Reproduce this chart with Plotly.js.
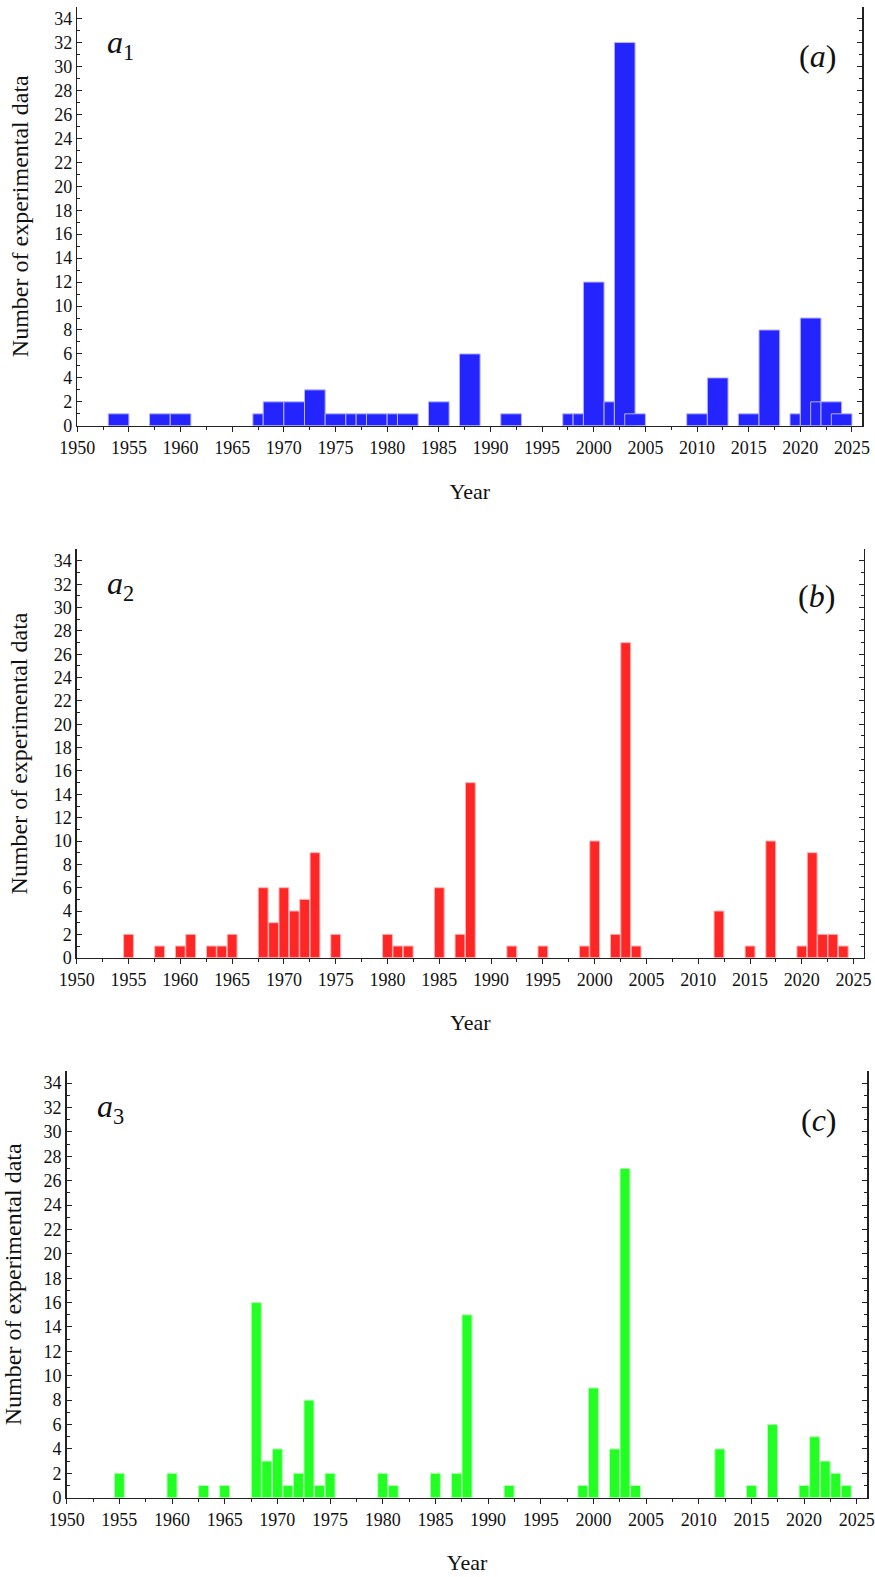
<!DOCTYPE html>
<html>
<head>
<meta charset="utf-8">
<script src="https://cdn.plot.ly/plotly-3.0.1.min.js"></script>
<style>
html,body{margin:0;padding:0;background:#fff;}
#chart{width:875px;height:1577px;}
</style>
</head>
<body>
<div id="chart"></div>
<script>
// ---- Panel (a): bins (start year, end year) and counts ----
const aStart = [1953, 1957, 1959, 1967, 1968, 1970, 1972, 1974, 1976, 1977, 1978, 1980, 1981, 1984, 1987, 1991, 1997, 1998, 1999, 2001, 2002, 2003, 2009, 2011, 2014, 2016, 2019, 2020, 2021, 2022, 2023];
const aEnd   = [1955, 1959, 1961, 1968, 1970, 1972, 1974, 1976, 1977, 1978, 1980, 1981, 1983, 1986, 1989, 1993, 1998, 1999, 2001, 2002, 2004, 2005, 2011, 2013, 2016, 2018, 2020, 2022, 2022, 2024, 2025];
const aCount = [1, 1, 1, 1, 2, 2, 3, 1, 1, 1, 1, 1, 1, 2, 6, 1, 1, 1, 12, 2, 32, 1, 1, 4, 1, 8, 1, 9, 2, 2, 1];

// ---- Panel (b) ----
const bYears = [1955, 1958, 1960, 1961, 1963, 1964, 1965, 1968, 1969, 1970, 1971, 1972, 1973, 1975, 1980, 1981, 1982, 1985, 1987, 1988, 1992, 1995, 1999, 2000, 2002, 2003, 2004, 2012, 2015, 2017, 2020, 2021, 2022, 2023, 2024];
const bCount = [2, 1, 1, 2, 1, 1, 2, 6, 3, 6, 4, 5, 9, 2, 2, 1, 1, 6, 2, 15, 1, 1, 1, 10, 2, 27, 1, 4, 1, 10, 1, 9, 2, 2, 1];

// ---- Panel (c) ----
const cYears = [1955, 1960, 1963, 1965, 1968, 1969, 1970, 1971, 1972, 1973, 1974, 1975, 1980, 1981, 1985, 1987, 1988, 1992, 1999, 2000, 2002, 2003, 2004, 2012, 2015, 2017, 2020, 2021, 2022, 2023, 2024];
const cCount = [2, 2, 1, 1, 16, 3, 4, 1, 2, 8, 1, 2, 2, 1, 2, 2, 15, 1, 1, 9, 4, 27, 1, 4, 1, 6, 1, 5, 3, 2, 1];

// ---- Labels ----
const panelTags = ['(<i>a</i>)', '(<i>b</i>)', '(<i>c</i>)'];
const panelNames = ['<i>a</i><sub>1</sub>', '<i>a</i><sub>2</sub>', '<i>a</i><sub>3</sub>'];
const xTitle = 'Year';
const yTitle = 'Number of experimental data';

const aCenter = aStart.map((s, i) => (s + aEnd[i]) / 2);
const aWidth = aStart.map((s, i) => aEnd[i] - s);

const traces = [
  {type: 'bar', x: aCenter, y: aCount, width: aWidth, xaxis: 'x', yaxis: 'y',
   marker: {color: '#2424ff', line: {color: '#b4b4ff', width: 1}}, hoverinfo: 'x+y'},
  {type: 'bar', x: bYears, y: bCount, width: 0.95, xaxis: 'x2', yaxis: 'y2',
   marker: {color: '#ff2626', line: {color: '#ffb4b4', width: 1}}, hoverinfo: 'x+y'},
  {type: 'bar', x: cYears, y: cCount, width: 0.95, xaxis: 'x3', yaxis: 'y3',
   marker: {color: '#22ff22', line: {color: '#b4ffb4', width: 1}}, hoverinfo: 'x+y'}
];

const FONT = "'Liberation Serif', 'Times New Roman', serif";
const LC = '#222';

function xBottom(dom, anchor) {
  return {
    domain: dom, anchor: anchor, range: [1950, 2026], tick0: 1950, dtick: 5,
    ticks: 'outside', ticklen: 5, tickwidth: 1, tickcolor: LC,
    showline: true, linecolor: LC, linewidth: 1.5, showgrid: false, zeroline: false,
    minor: {tick0: 1950, dtick: 2.5, ticks: 'outside', ticklen: 3, tickcolor: LC, showgrid: false},
    tickfont: {family: FONT, size: 18, color: '#111'},
    title: {text: xTitle, font: {family: FONT, size: 22, color: '#111'}, standoff: 26},
    fixedrange: true
  };
}
function xTop(over, anchor) {
  return {
    overlaying: over, anchor: anchor, side: 'top', range: [1950, 2026], tick0: 1950, dtick: 5,
    ticks: 'inside', ticklen: 5, tickwidth: 1, tickcolor: LC,
    showline: true, linecolor: LC, linewidth: 1.5, showgrid: false, zeroline: false,
    showticklabels: false,
    minor: {tick0: 1950, dtick: 2.5, ticks: 'inside', ticklen: 3, tickcolor: LC, showgrid: false},
    fixedrange: true
  };
}
function yAx(dom, anchor, standoff) {
  return {
    domain: dom, anchor: anchor, range: [0, 35], tick0: 0, dtick: 2,
    ticks: 'inside', ticklen: 5, tickwidth: 1, tickcolor: LC,
    showline: true, linecolor: LC, linewidth: 1.5, mirror: 'ticks', showgrid: false, zeroline: false,
    minor: {tick0: 0, dtick: 1, ticks: 'inside', ticklen: 3, tickcolor: LC, showgrid: false},
    tickfont: {family: FONT, size: 18, color: '#111'},
    title: {text: yTitle, font: {family: FONT, size: 24, color: '#111'}, standoff: standoff},
    fixedrange: true
  };
}

const layout = {
  width: 875, height: 1577,
  margin: {l: 0, r: 0, t: 0, b: 0},
  paper_bgcolor: '#fff', plot_bgcolor: '#fff',
  showlegend: false, barmode: 'overlay', bargap: 0,
  font: {family: FONT, color: '#111'},
  xaxis:  xBottom([0.0883, 0.9855], 'y'),
  yaxis:  yAx([0.7300, 0.9958], 'x', 19),
  xaxis2: xBottom([0.0877, 0.9874], 'y2'),
  yaxis2: yAx([0.3927, 0.6517], 'x2', 19),
  xaxis3: xBottom([0.0762, 0.9912], 'y3'),
  yaxis3: yAx([0.0503, 0.3209], 'x3', 17),
  xaxis4: xTop('x', 'y'),
  xaxis5: xTop('x2', 'y2'),
  xaxis6: xTop('x3', 'y3'),
  annotations: [
    {text: panelNames[0], xref: 'paper', yref: 'paper', x: 0.120, y: 0.9715, xanchor: 'left', yanchor: 'middle', showarrow: false, font: {family: FONT, size: 32, color: '#111'}},
    {text: panelTags[0],  xref: 'paper', yref: 'paper', x: 0.958, y: 0.9645, xanchor: 'right', yanchor: 'middle', showarrow: false, font: {family: FONT, size: 32, color: '#111'}},
    {text: panelNames[1], xref: 'paper', yref: 'paper', x: 0.120, y: 0.629, xanchor: 'left', yanchor: 'middle', showarrow: false, font: {family: FONT, size: 32, color: '#111'}},
    {text: panelTags[1],  xref: 'paper', yref: 'paper', x: 0.956, y: 0.622, xanchor: 'right', yanchor: 'middle', showarrow: false, font: {family: FONT, size: 32, color: '#111'}},
    {text: panelNames[2], xref: 'paper', yref: 'paper', x: 0.109, y: 0.2968, xanchor: 'left', yanchor: 'middle', showarrow: false, font: {family: FONT, size: 32, color: '#111'}},
    {text: panelTags[2],  xref: 'paper', yref: 'paper', x: 0.959, y: 0.2898, xanchor: 'right', yanchor: 'middle', showarrow: false, font: {family: FONT, size: 32, color: '#111'}}
  ]
};

Plotly.newPlot('chart', traces, layout, {staticPlot: true, displayModeBar: false});
</script>
</body>
</html>
